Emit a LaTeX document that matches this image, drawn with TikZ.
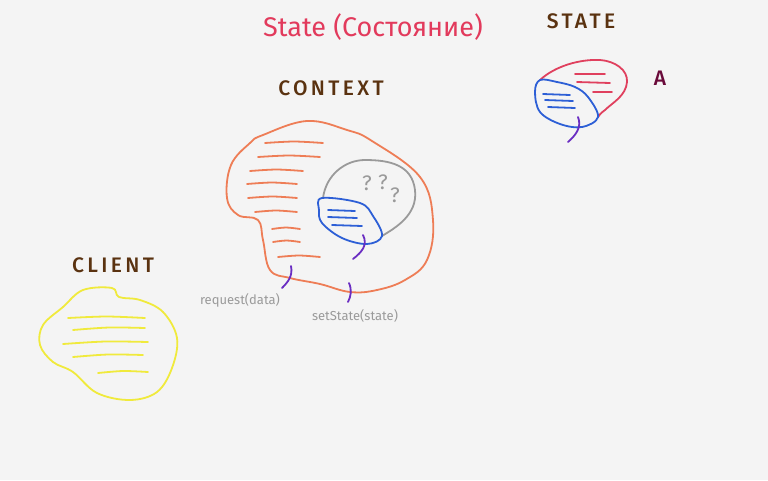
\documentclass[tikz,border=0pt]{standalone}
\usepackage{fontspec}
\setmainfont{Fira Sans}
\newfontfamily\lblfont[LetterSpace=16]{Fira Sans Medium}
\definecolor{bg}{HTML}{F4F4F4}
\definecolor{ttl}{HTML}{E23A5C}
\definecolor{brn}{HTML}{5A3210}
\definecolor{org}{HTML}{EE7D56}
\definecolor{gry}{HTML}{9A9A9A}
\definecolor{blu}{HTML}{2D5FD6}
\definecolor{pur}{HTML}{6A2DC2}
\definecolor{yel}{HTML}{F0EA3C}
\definecolor{red2}{HTML}{E0405E}
\definecolor{mar}{HTML}{6A0A3A}
\begin{document}
\begin{tikzpicture}[x=1pt,y=-1pt,line cap=round,line join=round,
  stroke/.style={line width=1.8pt},
  hline/.style={line width=1.8pt},
  lbl/.style={font=\fontsize{21}{23}\lblfont,text=brn},
  small/.style={font=\fontsize{13}{15}\selectfont,text=gry}]
\fill[bg] (0,0) rectangle (768,480);
\useasboundingbox (0,0) rectangle (768,480);

% title and labels
\node[font=\fontsize{27}{30}\selectfont,text=ttl] (title) at (373,27) {State (Состояние)};
\node[lbl] (ctxlbl) at (331,88) {CONTEXT};
\node[lbl] (stlbl) at (581,21) {STATE};
\node[lbl] (cllbl) at (113,265) {CLIENT};
\node[font=\fontsize{21}{23}\lblfont,text=mar] (alb) at (660,78) {A};
\node[small] (req) at (240,300) {request(data)};
\node[small] (sst) at (355,316) {setState(state)};

% context blob
\draw[org,stroke] plot[smooth cycle,tension=0.65] coordinates {
 (263,135) (307,121) (347,130) (372,141) (420,177) (433,220) (427,260)
 (405,280) (377,290) (350,292) (320,284) (290,278) (270,270) (263,240)
 (258,220) (238,215) (227,198) (231,165) (250,143)};
\foreach \xa/\xb/\yy in {265/323/143,258/320/157,250/303/171,247/297/184,248/297/198,255/297/212,272/300/229,273/300/242,278/320/257}{
 \draw[org,hline] plot[smooth] coordinates {(\xa,\yy) ({(\xa+\xb)/2},\yy-1.5) (\xb,\yy)};}

% gray blob
\draw[gry,stroke] (323,198) .. controls (326,175) and (345,160) .. (365,160)
  .. controls (390,160) and (412,165) .. (415,190)
  .. controls (418,215) and (395,228) .. (382,236);
% blue blob in context
\draw[blu,stroke] plot[smooth cycle,tension=0.6] coordinates {
 (322,198) (360,203) (373,216) (382,236) (367,244) (342,238) (322,223) (319,210)};
\foreach \xa/\xb/\yy in {328/355/210,328/357/217,332/362/225}{
 \draw[blu,hline] (\xa,\yy) -- (\xb,\yy+1);}
\node[text=gry,font=\fontsize{21}{24}\selectfont] (q1) at (367,183) {?};
\node[text=gry,font=\fontsize{21}{24}\selectfont] (q2) at (383,182) {?};
\node[text=gry,font=\fontsize{21}{24}\selectfont] (q3) at (395,195) {?};

% purple connectors
\draw[pur,stroke] (363,235) .. controls (368,245) and (362,252) .. (353,259);
\draw[pur,stroke] (291,266) .. controls (293,276) and (288,282) .. (282,288);
\draw[pur,stroke] (349,283) .. controls (352,290) and (351,296) .. (348,302);

% state blob (top right)
\draw[red2,stroke] (540,80) .. controls (555,66) and (580,59) .. (600,60)
  .. controls (615,61) and (628,70) .. (627,82)
  .. controls (626,96) and (612,103) .. (605,110)
  .. controls (601,113) and (599,115) .. (598,117);
\foreach \xa/\xb/\ya/\yb in {575/605/74/74,577/610/82/83,593/612/92/92}{
 \draw[red2,hline] (\xa,\ya) -- (\xb,\yb);}
\draw[blu,stroke] plot[smooth cycle,tension=0.6] coordinates {
 (540,80) (557,82) (575,87) (588,97) (598,117) (582,127) (560,124) (540,112) (535,92)};
\foreach \xa/\xb/\ya/\yb in {543/570/94/95,545/573/100/101,548/575/107/108}{
 \draw[blu,hline] (\xa,\ya) -- (\xb,\yb);}
\draw[pur,stroke] (578,117) .. controls (582,127) and (576,135) .. (568,142);

% client blob
\draw[yel,stroke] plot[smooth cycle,tension=0.6] coordinates {
 (63,307) (83,290) (112,288) (119,297) (140,300) (163,312) (177,338) (172,368)
 (157,392) (130,400) (97,393) (73,372) (53,362) (40,345) (43,325)};
\foreach \xa/\xb/\ya/\yb in {68/145/318/318,73/145/330/328,63/148/344/342,73/143/357/355,98/148/373/372}{
 \draw[yel,hline] plot[smooth] coordinates {(\xa,\ya) ({(\xa+\xb)/2},{(\ya+\yb)/2-1.5}) (\xb,\yb)};}
\end{tikzpicture}
\end{document}
